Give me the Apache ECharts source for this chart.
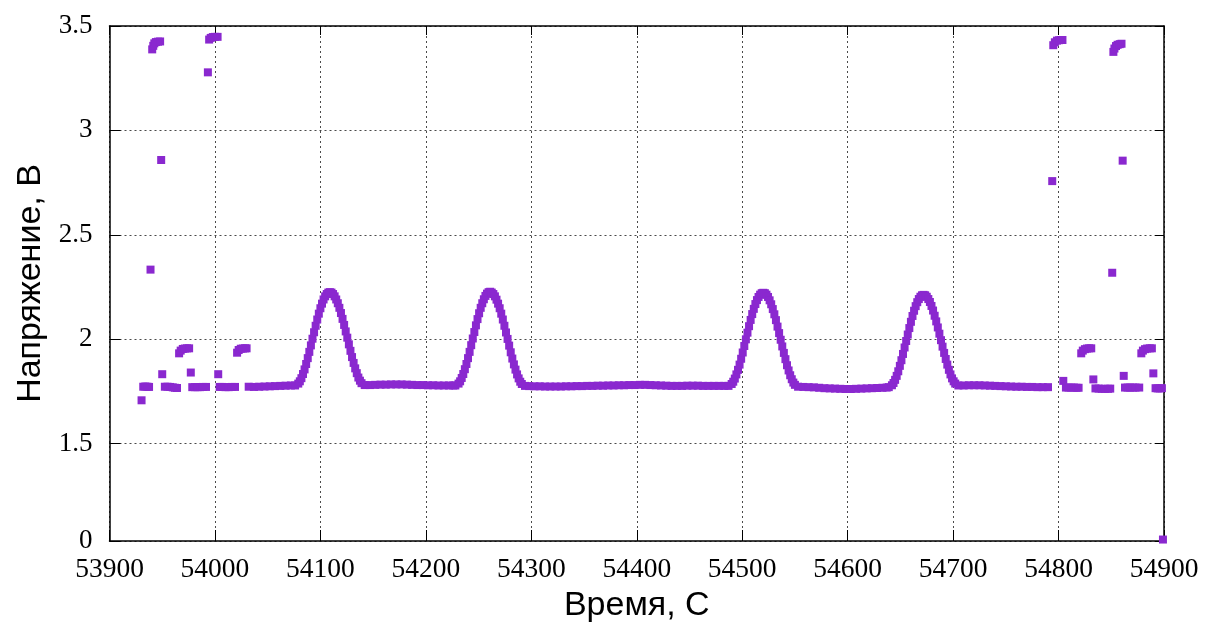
<!DOCTYPE html>
<html>
<head>
<meta charset="utf-8">
<script src="https://cdn.jsdelivr.net/npm/echarts@6/dist/echarts.min.js"></script>
<style>
html,body{margin:0;padding:0;background:#fff;}
#c{width:1206px;height:622px;}
</style>
</head>
<body>
<div id="c"></div>
<script>
// ---- tick labels ----
const xMin = 53900, xMax = 54900, xStep = 100;
const yTickValues = [1.033, 1.5, 2, 2.5, 3, 3.5];
const yTickLabels = ['0', '1.5', '2', '2.5', '3', '3.5'];

// ---- continuous trace (time, s / voltage, V) ----
const traceTime = [
  54032, 54037, 54042, 54047, 54052, 54057, 54062, 54067, 54072,
  54076, 54079, 54080.5, 54082, 54083.5, 54085, 54086.5, 54088, 54089.5, 54091, 54092.5, 54094, 54095.5, 54097, 54098.5, 54100, 54101.5, 54103, 54104.5, 54106, 54107.5,
  54109, 54110.5, 54112, 54113.5, 54115, 54116.5, 54118, 54119.5, 54121, 54122.5, 54124, 54125.5, 54127, 54128.5, 54130, 54131.5, 54133, 54134.5, 54136, 54137.5, 54139, 54142,
  54147, 54152, 54157, 54162, 54167, 54172, 54177, 54182, 54187, 54192, 54197, 54202, 54207, 54212, 54217, 54222, 54226,
  54228, 54231, 54232.5, 54234, 54235.5, 54237, 54238.5, 54240, 54241.5, 54243, 54244.5, 54246, 54247.5, 54249, 54250.5, 54252, 54253.5, 54255, 54256.5, 54258, 54259.5,
  54261, 54262.5, 54264, 54265.5, 54267, 54268.5, 54270, 54271.5, 54273, 54274.5, 54276, 54277.5, 54279, 54280.5, 54282, 54283.5, 54285, 54286.5, 54288, 54289.5, 54291, 54294,
  54298, 54303, 54308, 54313, 54318, 54323, 54328, 54333, 54338, 54343, 54348, 54353, 54358, 54363, 54368, 54373, 54378, 54383, 54388,
  54393, 54398, 54403, 54408, 54413, 54418, 54423, 54428, 54433, 54438, 54443, 54448, 54453, 54458, 54463, 54468, 54473, 54478, 54483,
  54487, 54490, 54491.5, 54493, 54494.5, 54496, 54497.5, 54499, 54500.5, 54502, 54503.5, 54505, 54506.5, 54508, 54509.5, 54511, 54512.5, 54514, 54515.5, 54517, 54518.5,
  54520, 54521.5, 54523, 54524.5, 54526, 54527.5, 54529, 54530.5, 54532, 54533.5, 54535, 54536.5, 54538, 54539.5, 54541, 54542.5, 54544, 54545.5, 54547, 54548.5, 54550, 54553,
  54558, 54563, 54568, 54573, 54578, 54583, 54588, 54593, 54598, 54603, 54608, 54613, 54618, 54623, 54628, 54633, 54637,
  54639, 54642, 54643.5, 54645, 54646.5, 54648, 54649.5, 54651, 54652.5, 54654, 54655.5, 54657, 54658.5, 54660, 54661.5, 54663, 54664.5, 54666, 54667.5, 54669, 54670.5,
  54672, 54673.5, 54675, 54676.5, 54678, 54679.5, 54681, 54682.5, 54684, 54685.5, 54687, 54688.5, 54690, 54691.5, 54693, 54694.5, 54696, 54697.5, 54699, 54700.5, 54702, 54705,
  54710, 54715, 54720, 54725, 54730, 54735, 54740, 54745, 54750, 54755, 54760, 54765, 54770, 54775, 54780, 54785, 54790
];
const traceVolt = [
  1.772, 1.771, 1.772, 1.773, 1.774, 1.775, 1.776, 1.777, 1.778,
  1.778, 1.787, 1.798, 1.813, 1.833, 1.855, 1.881, 1.909, 1.939, 1.970, 2.002, 2.033, 2.064, 2.094, 2.122, 2.148, 2.170, 2.190, 2.205, 2.216, 2.223,
  2.225, 2.223, 2.216, 2.205, 2.190, 2.172, 2.150, 2.125, 2.097, 2.068, 2.037, 2.007, 1.975, 1.944, 1.914, 1.886, 1.860, 1.837, 1.816, 1.801, 1.789, 1.780,
  1.780, 1.781, 1.782, 1.782, 1.783, 1.783, 1.783, 1.782, 1.781, 1.780, 1.780, 1.779, 1.779, 1.778, 1.778, 1.778, 1.778,
  1.778, 1.787, 1.798, 1.814, 1.833, 1.856, 1.881, 1.909, 1.939, 1.971, 2.003, 2.034, 2.066, 2.096, 2.124, 2.150, 2.172, 2.191, 2.207, 2.218, 2.225,
  2.227, 2.223, 2.216, 2.205, 2.189, 2.170, 2.148, 2.122, 2.094, 2.064, 2.032, 2.001, 1.969, 1.937, 1.907, 1.879, 1.854, 1.831, 1.812, 1.796, 1.785, 1.776,
  1.775, 1.774, 1.774, 1.773, 1.773, 1.773, 1.773, 1.774, 1.774, 1.775, 1.775, 1.776, 1.776, 1.777, 1.777, 1.778, 1.778, 1.779, 1.779,
  1.780, 1.780, 1.781, 1.781, 1.780, 1.779, 1.778, 1.777, 1.776, 1.776, 1.776, 1.777, 1.777, 1.777, 1.776, 1.776, 1.776, 1.776, 1.776,
  1.776, 1.785, 1.796, 1.811, 1.831, 1.853, 1.878, 1.906, 1.936, 1.967, 1.999, 2.031, 2.062, 2.092, 2.120, 2.145, 2.168, 2.187, 2.202, 2.213, 2.220,
  2.222, 2.220, 2.213, 2.202, 2.186, 2.167, 2.144, 2.119, 2.091, 2.060, 2.029, 1.997, 1.965, 1.934, 1.904, 1.875, 1.850, 1.827, 1.808, 1.792, 1.781, 1.772,
  1.771, 1.770, 1.769, 1.767, 1.765, 1.764, 1.763, 1.762, 1.761, 1.761, 1.762, 1.763, 1.764, 1.765, 1.766, 1.767, 1.768,
  1.770, 1.779, 1.790, 1.805, 1.824, 1.846, 1.872, 1.899, 1.929, 1.960, 1.991, 2.022, 2.053, 2.083, 2.111, 2.136, 2.158, 2.177, 2.192, 2.203, 2.210,
  2.212, 2.210, 2.203, 2.192, 2.178, 2.159, 2.137, 2.112, 2.085, 2.056, 2.026, 1.995, 1.964, 1.934, 1.905, 1.878, 1.853, 1.831, 1.812, 1.798, 1.787, 1.778,
  1.778, 1.779, 1.779, 1.779, 1.778, 1.777, 1.776, 1.775, 1.774, 1.773, 1.772, 1.772, 1.771, 1.771, 1.770, 1.770, 1.770
];

// ---- switching region at the start ----
const leftTime = [
  53932, 53934, 53936, 53937.5,
  53952.5, 53955, 53957.5, 53960, 53962, 53964,
  53978.5, 53981, 53983.5, 53986, 53988.5, 53991.5,
  54004.5, 54007, 54010, 54013, 54016, 54019,
  53966, 53967.5, 53969.5, 53971.5, 53973.5, 53975.5,
  54021, 54022.5, 54024.5, 54026.5, 54028.5, 54030,
  53940.5, 53941.5, 53942.5, 53944, 53946, 53948,
  53994.5, 53996, 53998, 54000, 54002.5,
  53930.4, 53938.9, 53949, 53950, 53977.1, 53993.3, 54003.1
];
const leftVolt = [
  1.772, 1.773, 1.772, 1.771,
  1.772, 1.772, 1.771, 1.769, 1.767, 1.766,
  1.770, 1.770, 1.770, 1.770, 1.771, 1.771,
  1.771, 1.771, 1.770, 1.770, 1.771, 1.771,
  1.932, 1.945, 1.953, 1.955, 1.956, 1.956,
  1.935, 1.948, 1.954, 1.955, 1.956, 1.956,
  3.388, 3.405, 3.417, 3.423, 3.425, 3.426,
  3.435, 3.443, 3.447, 3.448, 3.448,
  1.707, 2.333, 2.858, 1.832, 1.840, 3.278, 1.832
];

// ---- switching region at the end ----
const rightTime = [
  54807, 54809.5, 54812, 54814.5, 54817, 54819,
  54835, 54838, 54841, 54844, 54847, 54849,
  54863, 54865.5, 54868, 54870.5, 54873, 54876.5,
  54892, 54894, 54896, 54898,
  54821.5, 54823, 54825, 54827, 54829, 54831,
  54878.5, 54880, 54882, 54884, 54886.5, 54888.5,
  54795, 54796.5, 54798.5, 54800.5, 54802.5, 54803.7,
  54852, 54853, 54854.5, 54856, 54858, 54859.7,
  54794, 54804.5, 54833, 54850.9, 54860.8, 54861.8, 54889.9, 54899
];
const rightVolt = [
  1.768, 1.768, 1.768, 1.768, 1.767, 1.767,
  1.764, 1.763, 1.762, 1.762, 1.762, 1.763,
  1.768, 1.768, 1.768, 1.768, 1.768, 1.768,
  1.765, 1.764, 1.764, 1.765,
  1.932, 1.945, 1.952, 1.955, 1.956, 1.956,
  1.932, 1.945, 1.952, 1.955, 1.956, 1.956,
  3.408, 3.422, 3.430, 3.432, 3.433, 3.433,
  3.376, 3.392, 3.404, 3.410, 3.413, 3.415,
  2.757, 1.800, 1.807, 2.318, 2.855, 1.824, 1.836, 1.040
];

function zip(t, v) { return t.map((x, i) => [x, v[i]]); }
const points = zip(traceTime, traceVolt).concat(zip(leftTime, leftVolt), zip(rightTime, rightVolt));

const chart = echarts.init(document.getElementById('c'), null, { renderer: 'canvas' });
const axisColor = '#000';
const gridLine = { show: true, lineStyle: { color: '#4a4a4a', width: 1, type: [2, 3] } };
const serif = 'Liberation Serif, Times New Roman, serif';
const sans = 'Liberation Sans, Arial, Helvetica, sans-serif';
function yLabel(v) {
  let best = 0;
  yTickValues.forEach((tv, i) => { if (Math.abs(tv - v) < Math.abs(yTickValues[best] - v)) best = i; });
  return yTickLabels[best];
}

chart.setOption({
  animation: false,
  backgroundColor: '#fff',
  grid: { left: 109.5, right: 42, top: 26, bottom: 81, containLabel: false, outerBoundsMode: 'none' },
  xAxis: [
    {
      type: 'value', position: 'bottom', min: xMin, max: xMax, interval: xStep,
      axisLine: { onZero: false, lineStyle: { color: axisColor, width: 1.5 } },
      axisTick: { inside: true, length: 11, lineStyle: { color: axisColor, width: 1 } },
      axisLabel: { fontFamily: serif, fontSize: 27.5, color: '#000', margin: 15, formatter: (v) => String(v) },
      splitLine: gridLine,
      name: 'Время, С', nameLocation: 'middle', nameGap: 47,
      nameTextStyle: { fontFamily: sans, fontSize: 34, color: '#000' }
    },
    {
      type: 'value', position: 'top', min: xMin, max: xMax, interval: xStep,
      axisLine: { onZero: false, lineStyle: { color: axisColor, width: 1.5 } },
      axisTick: { inside: true, length: 9, lineStyle: { color: axisColor, width: 1 } },
      axisLabel: { show: false }, splitLine: { show: false }
    }
  ],
  yAxis: [
    {
      type: 'value', position: 'left', min: yTickValues[0], max: 3.5,
      axisLine: { onZero: false, lineStyle: { color: axisColor, width: 1.5 } },
      axisTick: { inside: true, length: 11, customValues: yTickValues, lineStyle: { color: axisColor, width: 1 } },
      axisLabel: { customValues: yTickValues, formatter: yLabel, fontFamily: serif, fontSize: 27, color: '#000', margin: 17 },
      splitLine: gridLine,
      name: 'Напряжение, В', nameLocation: 'middle', nameGap: 62,
      nameTextStyle: { fontFamily: sans, fontSize: 34, color: '#000' }
    },
    {
      type: 'value', position: 'right', min: yTickValues[0], max: 3.5,
      axisLine: { onZero: false, lineStyle: { color: axisColor, width: 1.5 } },
      axisTick: { inside: true, length: 9, customValues: yTickValues, lineStyle: { color: axisColor, width: 1 } },
      axisLabel: { show: false }, splitLine: { show: false }
    }
  ],
  series: [
    {
      type: 'scatter', xAxisIndex: 0, yAxisIndex: 0,
      symbol: 'rect', symbolSize: 8,
      itemStyle: { color: '#8a28cf', opacity: 1 },
      emphasis: { disabled: true },
      data: points
    }
  ]
});
</script>
</body>
</html>
